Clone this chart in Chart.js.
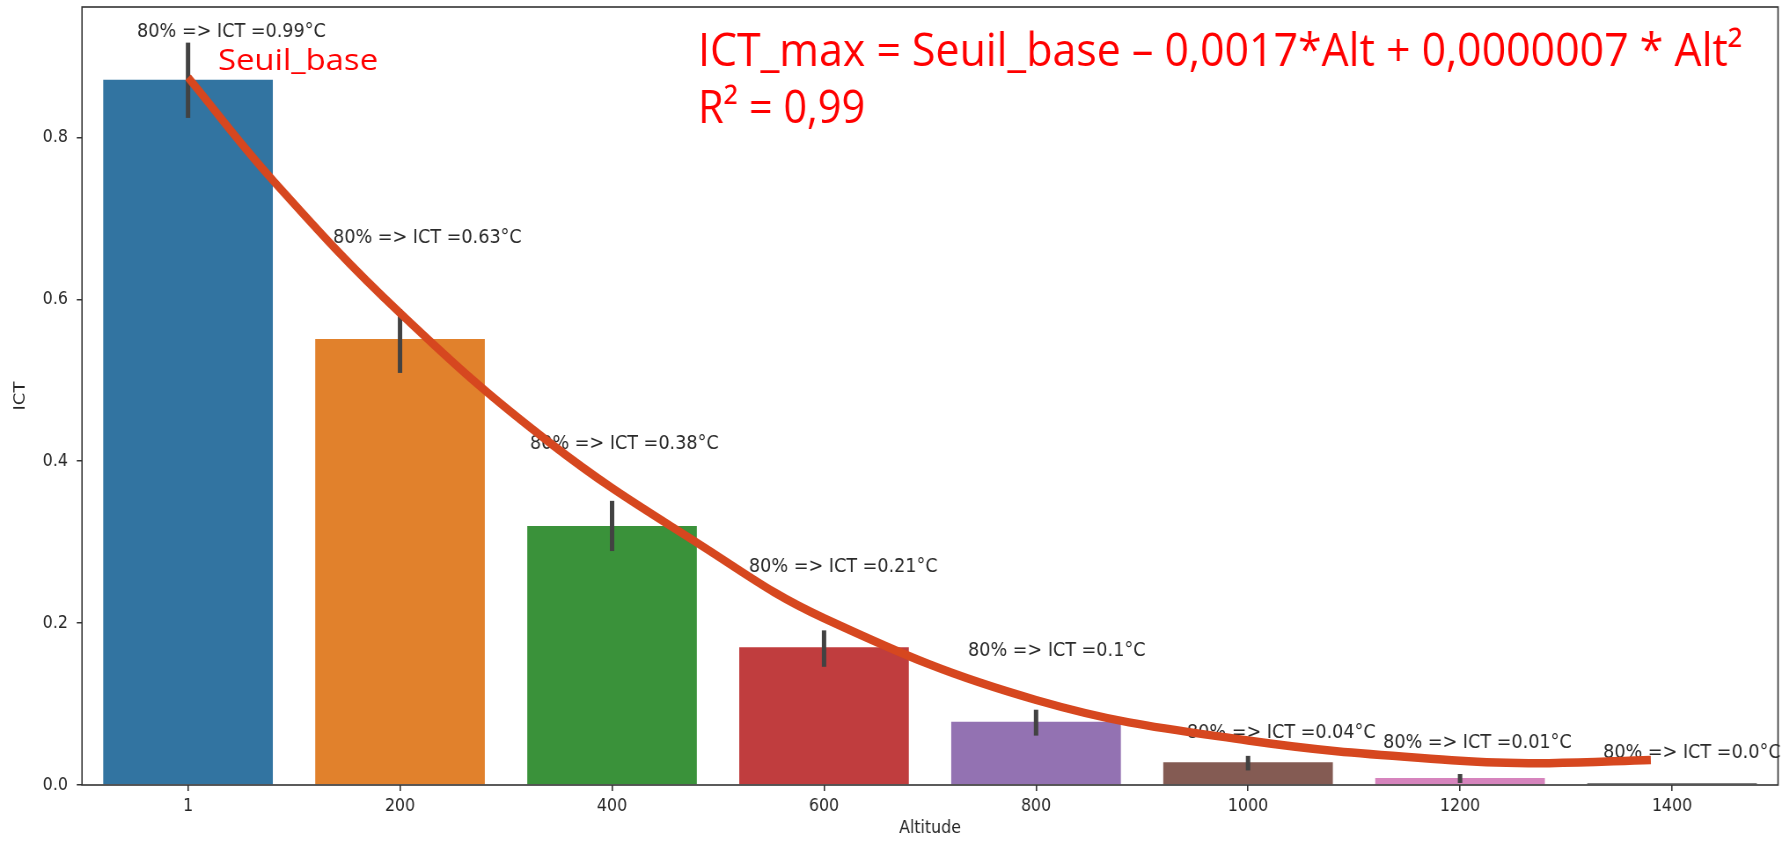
<!DOCTYPE html>
<html>
<head>
<meta charset="utf-8">
<script src="https://cdn.jsdelivr.net/npm/chart.js@4.4.1/dist/chart.umd.min.js"></script>
<style>
  html, body { margin: 0; padding: 0; background: #fff; overflow: hidden; }
  #wrap { width: 2035px; height: 841px; transform: scaleX(0.88); transform-origin: 0 0; }
  #c { width: 2035px; height: 841px; display: block; }
</style>
</head>
<body>
<div id="wrap"><canvas id="c" width="2035" height="841"></canvas></div>
<script>
// Altitude classes (m) shown on the x axis
const altitudes = ['1', '200', '400', '600', '800', '1000', '1200', '1400'];
// Mean ICT per altitude class
const ictMean = [0.871, 0.551, 0.320, 0.170, 0.078, 0.028, 0.0087, 0.0025];
// Confidence interval bounds for each bar
const ciLow  = [0.824, 0.509, 0.289, 0.146, 0.061, 0.018, 0.0025, 0.0025];
const ciHigh = [0.917, 0.588, 0.351, 0.191, 0.093, 0.036, 0.0136, 0.0025];
// 80th percentile of ICT per class (°C), written above the bars
const ict80 = ['0.99', '0.63', '0.38', '0.21', '0.1', '0.04', '0.01', '0.0'];
// Where each percentile note sits, in axis units (category index, ICT)
const noteX = [-0.24, 0.684, 1.613, 2.646, 3.679, 4.712, 5.637, 6.675];
const noteY = [0.930, 0.676, 0.421, 0.269, 0.1655, 0.064, 0.052, 0.0395];
// Fitted quadratic trend ICT_max(Alt), sampled along the category index
const fitX = [0, 0.4, 1.0, 1.71, 2.42, 3.0, 4.0, 5.0, 6.0, 6.42, 6.9];
const fitY = [0.874, 0.747, 0.583, 0.422, 0.296, 0.206, 0.105, 0.055, 0.030, 0.027, 0.031];
// Y axis ticks
const yTicks = [0.0, 0.2, 0.4, 0.6, 0.8];

const barColors = ['#3274A1', '#E1812C', '#3A923A', '#C03D3E', '#9372B2', '#845B53', '#D684BD', '#7F7F7F'];
const INK = '#262626';
const AXIS_FONT = { family: '"DejaVu Sans"', size: 18 };

function fitText(ctx, text, x, baseline, font, width) {
  ctx.font = font;
  const w = ctx.measureText(text).width;
  ctx.save();
  ctx.translate(x, baseline);
  ctx.scale(width / w, 1);
  ctx.fillText(text, 0, 0);
  ctx.restore();
}

const overlay = {
  id: 'overlay',
  beforeDatasetDraw(chart, args) {
    if (args.index !== 1) return;
    const { ctx } = chart;
    const x = chart.scales.x, y = chart.scales.y, xc = chart.scales.xc;
    ctx.save();
    // confidence interval bars
    ctx.strokeStyle = '#424242';
    ctx.lineWidth = 5;
    ctx.lineCap = 'butt';
    ciLow.forEach((lo, i) => {
      const hi = ciHigh[i];
      if (hi <= lo) return;
      const px = x.getPixelForValue(i);
      ctx.beginPath();
      ctx.moveTo(px, y.getPixelForValue(lo));
      ctx.lineTo(px, y.getPixelForValue(hi));
      ctx.stroke();
    });
    // percentile notes
    ctx.font = '20px "DejaVu Sans"';
    ctx.fillStyle = '#2a2a2a';
    ctx.textAlign = 'left';
    ctx.textBaseline = 'middle';
    ict80.forEach((v, i) => {
      ctx.fillText('80% => ICT =' + v + '°C', xc.getPixelForValue(noteX[i]), y.getPixelForValue(noteY[i]));
    });
    ctx.restore();
  },
  afterDatasetsDraw(chart) {
    const { ctx, chartArea: a } = chart;
    const y = chart.scales.y, xc = chart.scales.xc;
    ctx.save();
    // axes frame
    ctx.strokeStyle = '#333';
    ctx.lineWidth = 1.6;
    ctx.strokeRect(a.left, a.top, a.right - a.left, a.bottom - a.top);
    // red annotations
    ctx.fillStyle = '#FF0000';
    ctx.textAlign = 'left';
    ctx.textBaseline = 'alphabetic';
    const sx = xc.getPixelForValue(fitX[0]) + 34;
    const sy = y.getPixelForValue(fitY[0]) - 7;
    fitText(ctx, 'Seuil_base', sx, sy, '29px "Open Sans"', 182);
    const fx = a.left + 700;
    fitText(ctx, 'ICT_max = Seuil_base – 0,0017*Alt + 0,0000007 * Alt²', fx, a.top + 59, '45px "Open Sans"', 1187);
    fitText(ctx, 'R² = 0,99', fx, a.top + 116, '45px "Open Sans"', 190);
    ctx.restore();
  }
};

new Chart(document.getElementById('c'), {
  type: 'bar',
  data: {
    labels: altitudes,
    datasets: [
      {
        type: 'bar',
        data: ictMean,
        backgroundColor: barColors,
        borderWidth: 0,
        grouped: false,
        barPercentage: 0.8,
        categoryPercentage: 1.0,
        xAxisID: 'x',
        yAxisID: 'y',
        order: 2
      },
      {
        type: 'line',
        data: fitX.map((v, i) => ({ x: v, y: fitY[i] })),
        borderColor: '#D6471F',
        borderWidth: 8.5,
        borderCapStyle: 'butt',
        pointRadius: 0,
        tension: 0.4,
        fill: false,
        xAxisID: 'xc',
        yAxisID: 'y',
        order: 1
      }
    ]
  },
  options: {
    responsive: false,
    animation: false,
    devicePixelRatio: 1,
    layout: { padding: { left: 0, top: 7, right: 14.5, bottom: 0 } },
    plugins: { legend: { display: false }, tooltip: { enabled: false } },
    scales: {
      x: {
        type: 'category',
        offset: true,
        grid: { display: true, drawOnChartArea: false, drawTicks: true, tickLength: 6, color: '#333', lineWidth: 1.6, offset: false },
        border: { display: false },
        ticks: { color: INK, font: AXIS_FONT, padding: 5 },
        title: { display: true, text: 'Altitude', color: INK, font: AXIS_FONT, padding: { top: 0, bottom: 2 } },
        afterFit(s) { s.height = 56; s.paddingLeft = 0; s.paddingRight = 0; }
      },
      xc: {
        type: 'linear',
        display: false,
        offset: false,
        grace: 0,
        min: -0.5,
        max: 7.5
      },
      y: {
        type: 'linear',
        min: 0,
        max: 0.961,
        grid: { display: true, drawOnChartArea: false, drawTicks: true, tickLength: 6, color: '#333', lineWidth: 1.5 },
        border: { display: false },
        afterBuildTicks(s) { s.ticks = yTicks.map(v => ({ value: v })); },
        ticks: { color: INK, font: AXIS_FONT, padding: 10, callback: v => Number(v).toFixed(1) },
        title: { display: true, text: 'ICT', color: INK, font: AXIS_FONT, padding: { top: 13, bottom: 0 } },
        afterFit(s) { s.width = 93.2; s.paddingTop = 0; s.paddingBottom = 0; }
      }
    }
  },
  plugins: [overlay]
});
</script>
</body>
</html>
